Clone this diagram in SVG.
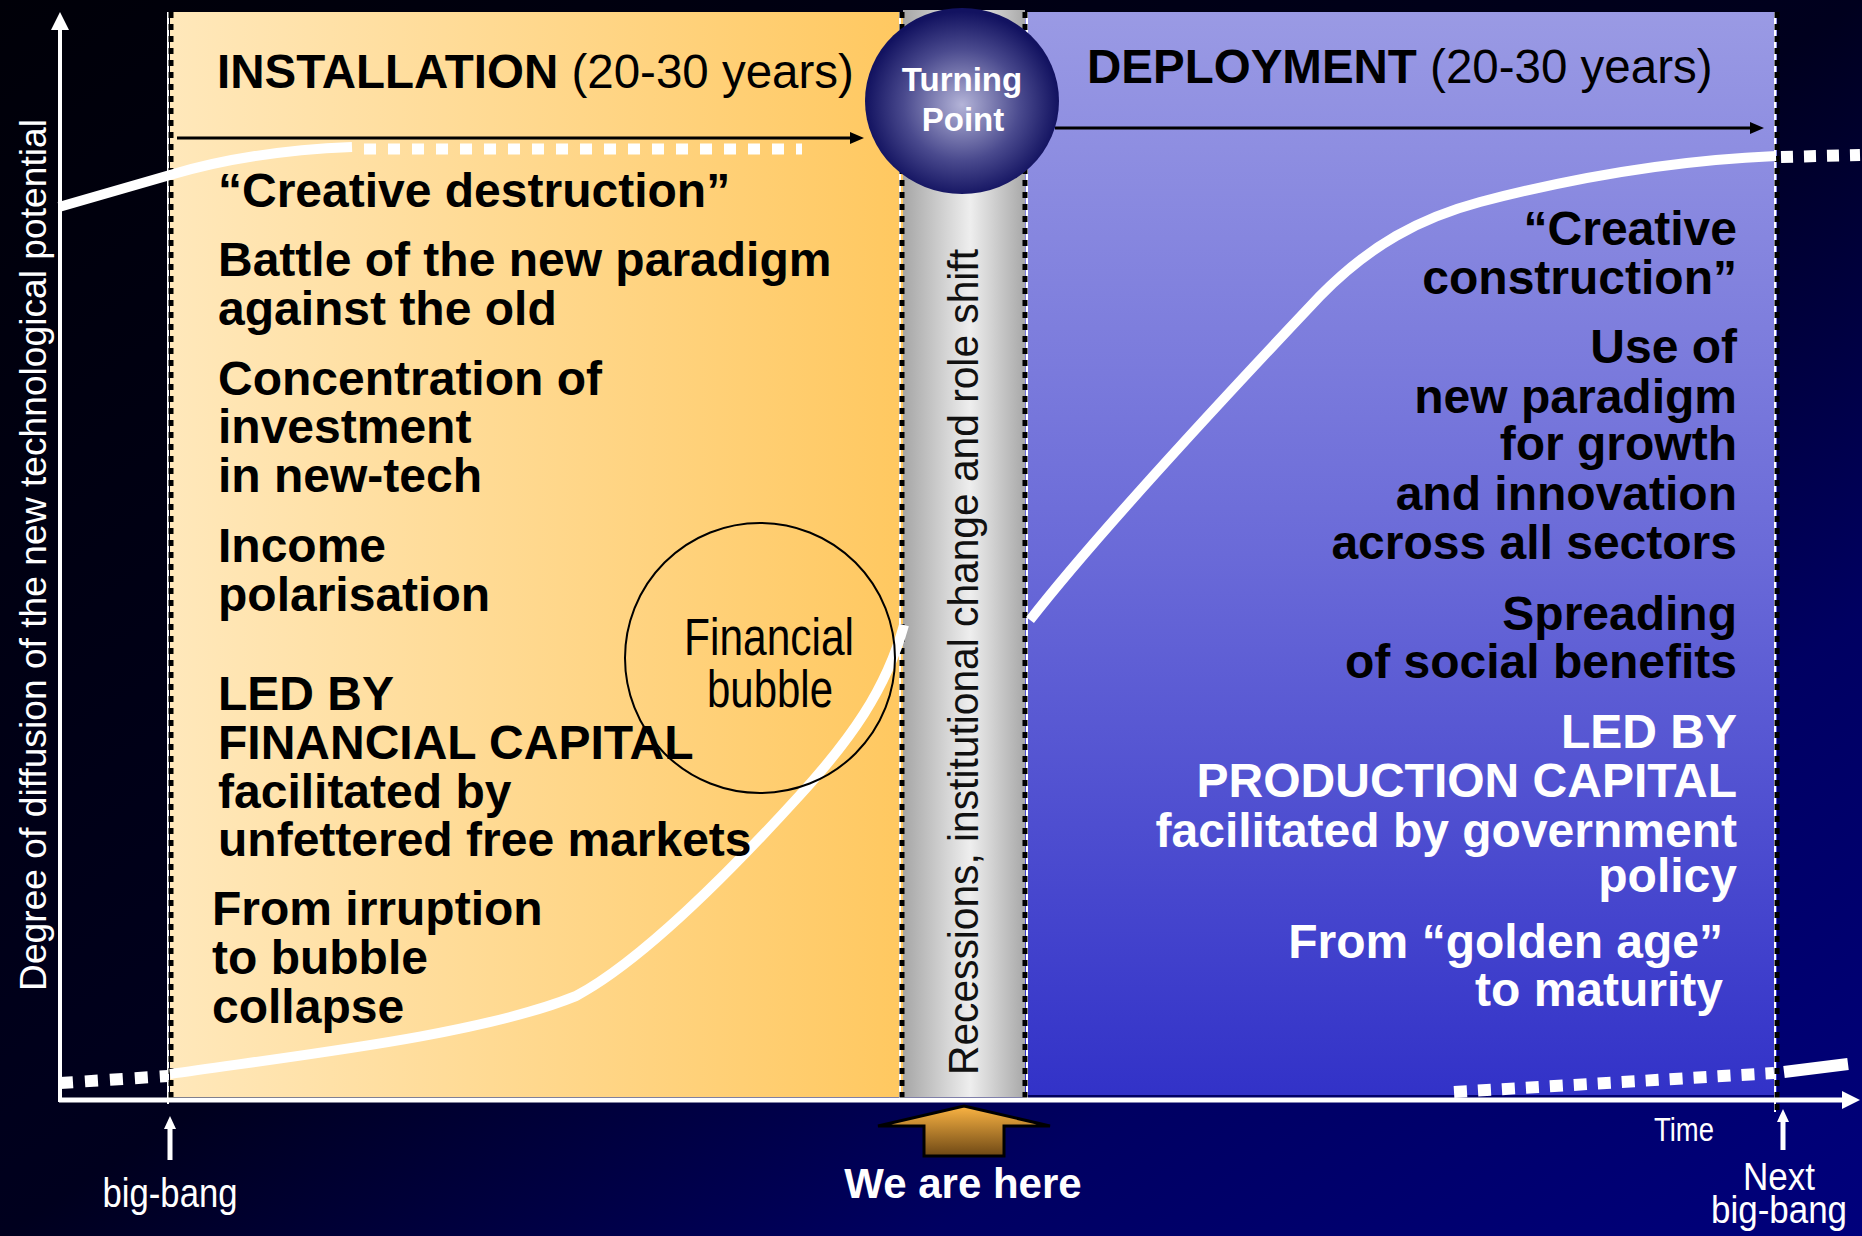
<svg xmlns="http://www.w3.org/2000/svg" width="1862" height="1236" viewBox="0 0 1862 1236">
<defs>
<linearGradient id="bg" x1="0" y1="0" x2="1" y2="1">
<stop offset="0" stop-color="#000008"/>
<stop offset="0.5" stop-color="#00001e"/>
<stop offset="0.75" stop-color="#000062"/>
<stop offset="1" stop-color="#00007c"/>
</linearGradient>
<linearGradient id="inst" x1="0" y1="0" x2="1" y2="0">
<stop offset="0" stop-color="#ffe8bb"/>
<stop offset="1" stop-color="#ffc860"/>
</linearGradient>
<linearGradient id="gray" x1="0" y1="0" x2="1" y2="0">
<stop offset="0" stop-color="#a6a6a6"/>
<stop offset="0.55" stop-color="#eeeeee"/>
<stop offset="1" stop-color="#a8a8a8"/>
</linearGradient>
<linearGradient id="depl" x1="0" y1="0" x2="0" y2="1">
<stop offset="0" stop-color="#9a9ae4"/>
<stop offset="0.5" stop-color="#6a6ad8"/>
<stop offset="1" stop-color="#3232c8"/>
</linearGradient>
<radialGradient id="tp" cx="0.5" cy="0.52" r="0.5">
<stop offset="0" stop-color="#b4b4d8"/>
<stop offset="0.6" stop-color="#4a4a8e"/>
<stop offset="1" stop-color="#121260"/>
</radialGradient>
<linearGradient id="orange" x1="0" y1="0" x2="0" y2="1">
<stop offset="0" stop-color="#fbb443"/>
<stop offset="1" stop-color="#6e4815"/>
</linearGradient>
<marker id="ahBlack" markerUnits="userSpaceOnUse" markerWidth="14" markerHeight="12" refX="0" refY="6" orient="auto">
<path d="M0,0 L14,6 L0,12 z" fill="#000"/>
</marker>
<marker id="ahAxis" markerUnits="userSpaceOnUse" markerWidth="18" markerHeight="18" refX="0" refY="9" orient="auto">
<path d="M0,0 L18,9 L0,18 z" fill="#fff"/>
</marker>
<marker id="ahSmall" markerUnits="userSpaceOnUse" markerWidth="13" markerHeight="12" refX="0" refY="6" orient="auto">
<path d="M0,0 L13,6 L0,12 z" fill="#fff"/>
</marker>
<style>
.t{font-family:'Liberation Sans',Arial,sans-serif;font-weight:bold;font-size:48px;fill:#000}
.h{font-size:47.5px}
.w{fill:#fff}
.e{text-anchor:end}
.m{text-anchor:middle}
.reg{font-weight:normal}
.dotW{stroke:#fff;stroke-width:2;fill:none}
.dotB{stroke:#000;stroke-width:5;stroke-dasharray:6 6;fill:none}
.curve{stroke:#fff;stroke-width:10;fill:none}
.dash{stroke:#fff;stroke-width:12;stroke-dasharray:13 12;fill:none}
</style>
</defs>

<rect id="background" x="0" y="0" width="1862" height="1236" fill="url(#bg)"/>

<g id="installation-panel">
<rect x="170" y="12" width="733" height="1085" fill="url(#inst)"/>
</g>
<g id="transition-band">
<rect x="903" y="10" width="122" height="1087" fill="url(#gray)"/>
<text class="t reg m" textLength="826" lengthAdjust="spacingAndGlyphs" transform="translate(978,662) rotate(-90)" style="font-size:42px;fill:#111">Recessions,  institutional change and role shift</text>
</g>
<g id="deployment-panel">
<rect x="1025" y="12" width="752" height="1083" fill="url(#depl)"/>
</g>

<g id="borders">
<line class="dotW" x1="168" y1="12" x2="168" y2="1104"/>
<line class="dotB" x1="171" y1="12" x2="171" y2="1104"/>
<line class="dotW" x1="900" y1="12" x2="900" y2="1100"/>
<line class="dotB" x1="902" y1="12" x2="902" y2="1100"/>
<line class="dotW" x1="1027" y1="12" x2="1027" y2="1100"/>
<line class="dotB" x1="1025" y1="12" x2="1025" y2="1100"/>
<line class="dotW" x1="1775" y1="12" x2="1775" y2="1112"/>
<line class="dotB" x1="1777" y1="12" x2="1777" y2="1112"/>
</g>

<g id="curves">
<path class="curve" d="M59,207 L170,175 Q250,151 352,147"/>
<path class="dash" d="M364,149 L802,149" style="stroke-width:11;stroke-dasharray:12 12"/>
<path class="dash" d="M60,1083 L168,1076"/>
<path class="curve" d="M170,1074 C300,1055 480,1035 576,996 C640,962 730,872 800,795 C850,740 886,690 904,625"/>
<path class="curve" d="M1030,620 C1100,530 1250,370 1320,296 C1370,245 1420,218 1480,202 C1580,176 1680,160 1776,156"/>
<path class="dash" d="M1781,157 L1860,155" style="stroke-width:12;stroke-dasharray:12 11"/>
<path class="dash" d="M1454,1092 L1774,1073" style="stroke-dasharray:13 11"/>
<path class="curve" d="M1784,1072 L1848,1064" style="stroke-width:12"/>
</g>

<g id="bubble">
<circle cx="760" cy="658" r="135" fill="none" stroke="#000" stroke-width="2"/>
<text class="t reg m" x="769" y="655" textLength="170" lengthAdjust="spacingAndGlyphs" style="font-size:51px">Financial</text>
<text class="t reg m" x="770" y="707" textLength="126" lengthAdjust="spacingAndGlyphs" style="font-size:51px">bubble</text>
</g>

<g id="connectors">
<line x1="59" y1="1100" x2="1842" y2="1100" stroke="#fff" stroke-width="5" marker-end="url(#ahAxis)"/>
<line x1="60" y1="1102" x2="60" y2="30" stroke="#fff" stroke-width="4" marker-end="url(#ahAxis)"/>
<line x1="177" y1="138" x2="850" y2="138" stroke="#000" stroke-width="3" marker-end="url(#ahBlack)"/>
<line x1="1055" y1="128" x2="1750" y2="128" stroke="#000" stroke-width="3" marker-end="url(#ahBlack)"/>
<line x1="170" y1="1160" x2="170" y2="1129" stroke="#fff" stroke-width="5" marker-end="url(#ahSmall)"/>
<line x1="1783" y1="1150" x2="1783" y2="1122" stroke="#fff" stroke-width="5" marker-end="url(#ahSmall)"/>
<polygon points="964,1106 1050,1126 1004,1126 1004,1156 924,1156 924,1126 878,1126" fill="url(#orange)" stroke="#000" stroke-width="3" stroke-linejoin="miter"/>
</g>

<g id="axis-labels">
<text class="t reg w m" textLength="872" lengthAdjust="spacingAndGlyphs" transform="translate(46,555) rotate(-90)" style="font-size:37px">Degree of diffusion of the new technological potential</text>
<text class="t reg w m" x="1684" y="1141" textLength="60" lengthAdjust="spacingAndGlyphs" style="font-size:33px">Time</text>
<text class="t reg w m" x="170" y="1207" textLength="135" lengthAdjust="spacingAndGlyphs" style="font-size:40px">big-bang</text>
<text class="t reg w m" x="1779" y="1190" textLength="72" lengthAdjust="spacingAndGlyphs" style="font-size:38px">Next</text>
<text class="t reg w m" x="1779" y="1223" textLength="136" lengthAdjust="spacingAndGlyphs" style="font-size:38px">big-bang</text>
<text class="t w m" x="963" y="1198" style="font-size:42px">We are here</text>
</g>

<g id="installation-text">
<text class="t h" x="217" y="88">INSTALLATION<tspan class="reg"> (20-30 years)</tspan></text>
<text class="t" x="218" y="207">“Creative destruction”</text>
<text class="t" x="218" y="276">Battle of the new paradigm</text>
<text class="t" x="218" y="325">against the old</text>
<text class="t" x="218" y="395">Concentration of</text>
<text class="t" x="218" y="443">investment</text>
<text class="t" x="218" y="492">in new-tech</text>
<text class="t" x="218" y="562">Income</text>
<text class="t" x="218" y="611">polarisation</text>
<text class="t" x="218" y="710">LED BY</text>
<text class="t" x="218" y="759">FINANCIAL CAPITAL</text>
<text class="t" x="218" y="808">facilitated by</text>
<text class="t" x="218" y="856">unfettered free markets</text>
<text class="t" x="212" y="925">From irruption</text>
<text class="t" x="212" y="974">to bubble</text>
<text class="t" x="212" y="1023">collapse</text>
</g>

<g id="deployment-text">
<text class="t h" x="1087" y="83">DEPLOYMENT<tspan class="reg"> (20-30 years)</tspan></text>
<text class="t e" x="1737" y="245">“Creative</text>
<text class="t e" x="1737" y="294">construction”</text>
<text class="t e" x="1737" y="363">Use of</text>
<text class="t e" x="1737" y="413">new paradigm</text>
<text class="t e" x="1737" y="460">for growth</text>
<text class="t e" x="1737" y="510">and innovation</text>
<text class="t e" x="1737" y="559">across all sectors</text>
<text class="t e" x="1737" y="630">Spreading</text>
<text class="t e" x="1737" y="678">of social benefits</text>
<text class="t e w" x="1737" y="748">LED BY</text>
<text class="t e w" x="1737" y="797">PRODUCTION CAPITAL</text>
<text class="t e w" x="1737" y="847">facilitated by government</text>
<text class="t e w" x="1737" y="892">policy</text>
<text class="t e w" x="1723" y="958">From “golden age”</text>
<text class="t e w" x="1723" y="1006">to maturity</text>
</g>

<g id="turning-point">
<ellipse cx="962" cy="101" rx="97" ry="93" fill="url(#tp)"/>
<text class="t w m" x="962" y="91" style="font-size:33px">Turning</text>
<text class="t w m" x="963" y="131" style="font-size:33px">Point</text>
</g>
</svg>
